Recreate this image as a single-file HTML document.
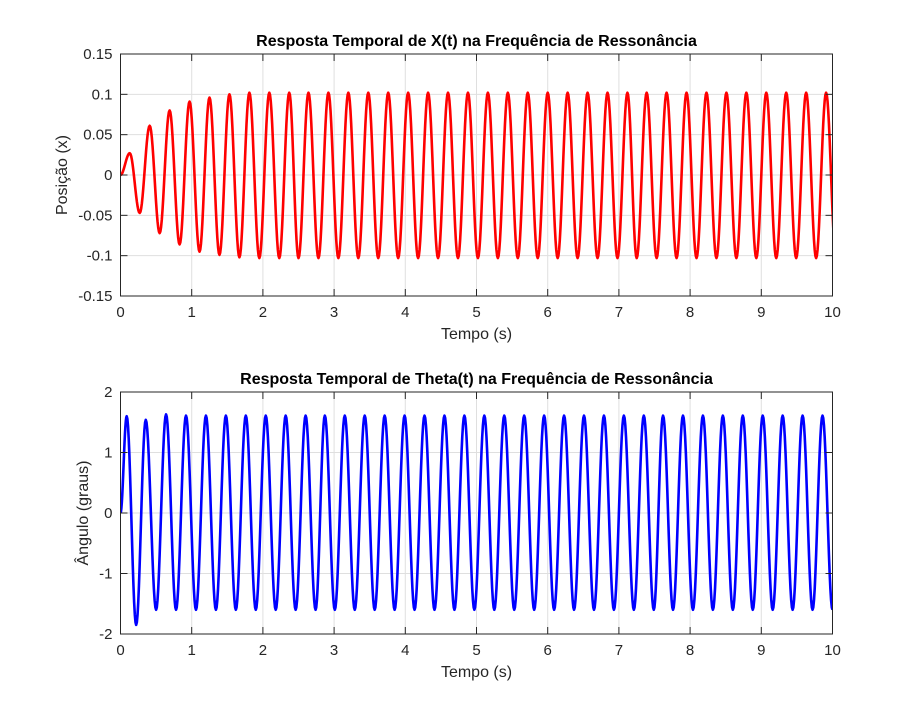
<!DOCTYPE html>
<html><head><meta charset="utf-8">
<style>
html,body{margin:0;padding:0;background:#fff;}
svg{display:block;font-family:"Liberation Sans",Arial,sans-serif;}
</style></head>
<body>
<svg id="fig" width="920" height="714" viewBox="0 0 920 714" xmlns="http://www.w3.org/2000/svg">
<rect x="0" y="0" width="920" height="714" fill="#fff"/>
</svg>
<script>
// ---- data ----
const xTicks = [0,1,2,3,4,5,6,7,8,9,10];
const topYTicks = [0.15,0.1,0.05,0,-0.05,-0.1,-0.15];
const topYTickLabels = ["0.15","0.1","0.05","0","-0.05","-0.1","-0.15"];
const botYTicks = [2,1,0,-1,-2];
const botYTickLabels = ["2","1","0","-1","-2"];

// extrema (time, value) of X(t)
const xTimes = [0,0.13,0.27,0.41,0.55,0.69,0.83,0.97,1.11,1.25,1.39,1.53,1.67,1.81,1.95,2.09,2.23,2.37,2.50,2.64,2.78,2.92,3.06,3.20,3.34,3.48,3.62,3.76,3.90,4.04,4.18,4.32,4.46,4.60,4.74,4.88,5.02,5.16,5.30,5.44,5.58,5.72,5.86,6.00,6.14,6.28,6.42,6.56,6.70,6.84,6.98,7.12,7.25,7.39,7.53,7.67,7.81,7.95,8.09,8.23,8.37,8.51,8.65,8.79,8.93,9.07,9.21,9.35,9.49,9.63,9.77,9.91,10.05];
const xValues = [0,0.027,-0.047,0.061,-0.072,0.080,-0.086,0.091,-0.095,0.096,-0.099,0.100,-0.102,0.102,-0.103,0.102,-0.103,0.102,-0.103,0.102,-0.103,0.102,-0.103,0.102,-0.103,0.102,-0.103,0.102,-0.103,0.102,-0.103,0.102,-0.103,0.102,-0.103,0.102,-0.103,0.102,-0.103,0.102,-0.103,0.102,-0.103,0.102,-0.103,0.102,-0.103,0.102,-0.103,0.102,-0.103,0.102,-0.103,0.102,-0.103,0.102,-0.103,0.102,-0.103,0.102,-0.103,0.102,-0.103,0.102,-0.103,0.102,-0.103,0.102,-0.103,0.102,-0.103,0.102,-0.103];

// extrema (time, value) of Theta(t)
const thTimes = [0,0.087,0.22,0.355,0.50,0.64,0.78,0.92,1.06,1.20,1.34,1.48,1.62,1.76,1.90,2.04,2.18,2.32,2.46,2.60,2.74,2.87,3.01,3.15,3.29,3.43,3.57,3.71,3.85,3.99,4.13,4.27,4.41,4.55,4.69,4.83,4.97,5.11,5.25,5.39,5.53,5.67,5.81,5.95,6.09,6.23,6.37,6.51,6.65,6.79,6.93,7.07,7.21,7.35,7.49,7.62,7.76,7.90,8.04,8.18,8.32,8.46,8.60,8.74,8.88,9.02,9.16,9.30,9.44,9.58,9.72,9.86,10.00];
const thValues = [0,1.60,-1.85,1.54,-1.60,1.63,-1.60,1.61,-1.60,1.61,-1.60,1.61,-1.60,1.61,-1.60,1.61,-1.60,1.61,-1.60,1.61,-1.60,1.61,-1.60,1.61,-1.60,1.61,-1.60,1.61,-1.60,1.61,-1.60,1.61,-1.60,1.61,-1.60,1.61,-1.60,1.61,-1.60,1.61,-1.60,1.61,-1.60,1.61,-1.60,1.61,-1.60,1.61,-1.60,1.61,-1.60,1.61,-1.60,1.61,-1.60,1.61,-1.60,1.61,-1.60,1.61,-1.60,1.61,-1.60,1.61,-1.60,1.61,-1.60,1.61,-1.60,1.61,-1.60,1.61,-1.60];

const NS = "http://www.w3.org/2000/svg";
const svg = document.getElementById('fig');
function mk(tag, attrs, parent){
  const e = document.createElementNS(NS, tag);
  for (const k in attrs) e.setAttribute(k, attrs[k]);
  (parent||svg).appendChild(e);
  return e;
}

function drawAxes(cfg){
  const {L,R,T,B,ymin,ymax,yTicks,yLabels,times,values,color,title,ylabel,ylabelX,prefix} = cfg;
  const sx = t => L + (t - 0) / 10 * (R - L);
  const sy = v => B - (v - ymin) / (ymax - ymin) * (B - T);
  const g = mk('g', {});
  
  
  // grid
  xTicks.forEach(t => {
    const ln = mk('line', {x1:sx(t), x2:sx(t), y1:T, y2:B, stroke:'#dfdfdf', 'stroke-width':1}, g);
    
    
  });
  yTicks.forEach(v => {
    const ln = mk('line', {x1:L, x2:R, y1:sy(v), y2:sy(v), stroke:'#dfdfdf', 'stroke-width':1}, g);
    
    
  });
  // clip
  const cp = mk('clipPath', {id: prefix + '-clip'}, g);
  mk('rect', {x:L, y:T-2, width:R-L, height:B-T+4}, cp);
  // series
  let d = '';
  for (let i = 0; i < times.length - 1; i++){
    const t0 = times[i], t1 = times[i+1], v0 = values[i], v1 = values[i+1];
    const N = 14;
    for (let k = (i===0?0:1); k <= N; k++){
      const s = k / N;
      const t = t0 + (t1 - t0) * s;
      const v = v0 + (v1 - v0) * (1 - Math.cos(Math.PI * s)) / 2;
      d += (d ? 'L' : 'M') + sx(t).toFixed(2) + ',' + sy(v).toFixed(2);
    }
  }
  const p = mk('path', {d:d, fill:'none', stroke:color, 'stroke-width':2.6, 'stroke-linejoin':'round', 'clip-path':'url(#' + prefix + '-clip)'}, g);
  
  
  // box
  const box = mk('rect', {x:L, y:T, width:R-L, height:B-T, fill:'none', stroke:'#262626', 'stroke-width':1}, g);
  
  
  // ticks + labels
  xTicks.forEach(t => {
    mk('line', {x1:sx(t), x2:sx(t), y1:B, y2:B-7, stroke:'#262626'}, g);
    mk('line', {x1:sx(t), x2:sx(t), y1:T, y2:T+7, stroke:'#262626'}, g);
    const tx = mk('text', {x:sx(t), y:B+21, 'text-anchor':'middle', 'font-size':15, fill:'#262626'}, g);
    
    
    tx.textContent = String(t);
  });
  yTicks.forEach((v, i) => {
    mk('line', {x1:L, x2:L+7, y1:sy(v), y2:sy(v), stroke:'#262626'}, g);
    mk('line', {x1:R, x2:R-7, y1:sy(v), y2:sy(v), stroke:'#262626'}, g);
    const tx = mk('text', {x:L-8, y:sy(v)+5, 'text-anchor':'end', 'font-size':15, fill:'#262626'}, g);
    
    
    tx.textContent = yLabels[i];
  });
  const ti = mk('text', {x:(L+R)/2, y:T-8, 'text-anchor':'middle', 'font-size':16, 'font-weight':'bold', fill:'#000'}, g);
  
  
  ti.textContent = title;
  const xl = mk('text', {x:(L+R)/2, y:B+43, 'text-anchor':'middle', 'font-size':16, fill:'#262626'}, g);
  
  
  xl.textContent = 'Tempo (s)';
  const cy = (T+B)/2;
  const yl = mk('text', {x:ylabelX, y:cy, 'text-anchor':'middle', 'font-size':16, fill:'#262626', transform:'rotate(-90 ' + ylabelX + ' ' + cy + ')'}, g);
  
  
  yl.textContent = ylabel;
}

drawAxes({L:120.5,R:832.5,T:54,B:296,ymin:-0.15,ymax:0.15,yTicks:topYTicks,yLabels:topYTickLabels,
  times:xTimes,values:xValues,color:'#ff0000',
  title:'Resposta Temporal de X(t) na Frequência de Ressonância',ylabel:'Posição (x)',ylabelX:67,prefix:'position'});
drawAxes({L:120.5,R:832.5,T:392,B:634,ymin:-2,ymax:2,yTicks:botYTicks,yLabels:botYTickLabels,
  times:thTimes,values:thValues,color:'#0000ff',
  title:'Resposta Temporal de Theta(t) na Frequência de Ressonância',ylabel:'Ângulo (graus)',ylabelX:88,prefix:'angle'});
</script>
</body></html>
